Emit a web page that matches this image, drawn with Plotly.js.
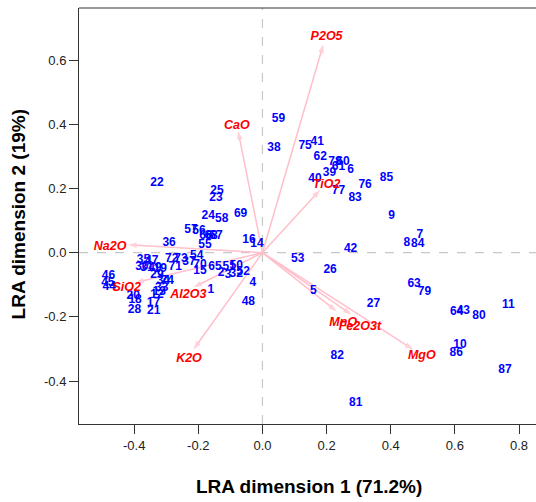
<!DOCTYPE html>
<html><head><meta charset="utf-8">
<script src="https://cdn.plot.ly/plotly-3.0.1.min.js"></script>
<style>html,body{margin:0;padding:0;background:#fff}#chart{width:536px;height:502px}</style>
</head><body><div id="chart"></div>
<script>
// Sample scores (row points)
const sampleLabels = ["1","2","3","4","5","6","7","8","9","10","11","12","13","14","15","16","17","18","19","20","21","22","23","24","25","26","27","28","29","30","31","32","33","34","35","36","37","38","39","40","41","42","43","44","45","46","47","48","49","50","51","52","53","54","55","56","57","58","59","60","61","62","63","64","65","66","67","68","69","70","71","72","73","74","75","76","77","78","79","80","81","82","83","84","85","86","87"];
const dim1 = [-0.161,-0.129,-0.107,-0.030,0.159,0.275,0.491,0.450,0.403,0.616,0.767,-0.329,-0.322,-0.017,-0.195,-0.042,-0.340,-0.397,-0.319,-0.403,-0.339,-0.329,-0.145,-0.169,-0.142,0.211,0.346,-0.399,-0.329,-0.376,-0.360,-0.082,-0.314,-0.309,-0.371,-0.291,-0.229,0.036,0.209,0.164,0.171,0.275,0.626,-0.478,-0.482,-0.480,-0.345,-0.044,-0.335,-0.082,-0.104,-0.060,0.110,-0.205,-0.179,-0.198,-0.223,-0.127,0.050,0.251,0.237,0.180,0.473,0.606,-0.148,-0.176,-0.145,-0.160,-0.068,-0.195,-0.272,-0.283,-0.254,-0.297,0.133,0.320,0.237,0.226,0.505,0.675,0.291,0.233,0.289,0.484,0.387,0.604,0.756];
const dim2 = [-0.115,-0.062,-0.069,-0.093,-0.118,0.259,0.056,0.030,0.115,-0.287,-0.164,-0.131,-0.121,0.028,-0.058,0.040,-0.157,-0.146,-0.050,-0.134,-0.181,0.217,0.172,0.113,0.194,-0.055,-0.160,-0.178,-0.069,-0.043,-0.047,-0.065,-0.110,-0.089,-0.022,0.030,-0.028,0.328,0.250,0.231,0.344,0.012,-0.181,-0.107,-0.093,-0.072,-0.027,-0.155,-0.047,-0.040,-0.044,-0.059,-0.020,-0.009,0.025,0.069,0.072,0.105,0.417,0.283,0.268,0.297,-0.098,-0.185,-0.043,0.053,0.053,0.053,0.121,-0.037,-0.045,-0.020,-0.019,-0.087,0.333,0.212,0.191,0.283,-0.122,-0.198,-0.468,-0.323,0.170,0.028,0.233,-0.312,-0.367];

// Variable loadings (arrows)
const varNames = ["P2O5","CaO","TiO2","Na2O","SiO2","Al2O3","K2O","MnO","Fe2O3t","MgO"];
const varDim1 = [0.190,-0.076,0.180,-0.419,-0.397,-0.215,-0.215,0.232,0.278,0.470];
const varDim2 = [0.650,0.380,0.196,0.025,-0.093,-0.108,-0.302,-0.183,-0.193,-0.302];
const varLabelDim1 = [0.200,-0.080,0.200,-0.475,-0.423,-0.231,-0.229,0.252,0.304,0.497];
const varLabelDim2 = [0.674,0.396,0.212,0.018,-0.110,-0.131,-0.331,-0.219,-0.231,-0.323];

const xTicks = [-0.4,-0.2,0.0,0.2,0.4,0.6,0.8];
const xTickText = ["-0.4","-0.2","0.0","0.2","0.4","0.6","0.8"];
const yTicks = [-0.4,-0.2,0.0,0.2,0.4,0.6];
const yTickText = ["-0.4","-0.2","0.0","0.2","0.4","0.6"];

const FONT = "Liberation Sans, Arial, Helvetica, sans-serif";
const PINK = "#FFBFCB";

const traces = [];
// arrows (drawn below the sample labels)
for (let i = 0; i < varNames.length; i++) {
  traces.push({
    type: "scatter", mode: "lines+markers",
    x: [0, varDim1[i]], y: [0, varDim2[i]],
    line: {color: PINK, width: 1.5},
    marker: {symbol: ["circle", "arrow"], size: [0, 9], color: PINK, angleref: "previous", line: {width: 0}},
    hoverinfo: "none", showlegend: false, cliponaxis: false
  });
}
traces.push({
  type: "scatter", mode: "text",
  x: dim1, y: dim2, text: sampleLabels,
  textfont: {family: FONT, size: 12, color: "#0000FF", weight: "bold"},
  hoverinfo: "none", cliponaxis: false, showlegend: false
});
// variable labels (red, on top)
traces.push({
  type: "scatter", mode: "text",
  x: varLabelDim1, y: varLabelDim2, text: varNames,
  textfont: {family: FONT, size: 12.5, color: "#FF0000", weight: "bold", style: "italic"},
  hoverinfo: "none", cliponaxis: false, showlegend: false
});

const annotations = [
  {x: 0.503, y: -0.151, xref: "paper", yref: "paper", showarrow: false,
   text: "<b>LRA dimension 1 (71.2%)</b>", font: {family: FONT, size: 19, color: "#000"},
   xanchor: "center", yanchor: "middle"},
  {x: -0.132, y: 0.503, xref: "paper", yref: "paper", showarrow: false, textangle: -90,
   text: "<b>LRA dimension 2 (19%)</b>", font: {family: FONT, size: 19, color: "#000"},
   xanchor: "center", yanchor: "middle"}
];

const layout = {
  width: 536, height: 502,
  margin: {l: 79, r: 0, t: 8, b: 78},
  paper_bgcolor: "#fff", plot_bgcolor: "#fff",
  showlegend: false,
  xaxis: {
    range: [-0.572, 0.853], tickvals: xTicks, ticktext: xTickText,
    showgrid: false, zeroline: false, showline: true, linecolor: "#333", linewidth: 1,
    mirror: false, ticks: "outside", ticklen: 9, tickcolor: "#333", tickwidth: 1,
    tickfont: {family: FONT, size: 13, color: "#222"}
  },
  yaxis: {
    range: [-0.534, 0.763], tickvals: yTicks, ticktext: yTickText,
    showgrid: false, zeroline: false, showline: true, linecolor: "#333", linewidth: 1,
    mirror: false, ticks: "outside", ticklen: 9, tickcolor: "#333", tickwidth: 1,
    tickfont: {family: FONT, size: 13, color: "#222"}
  },
  shapes: [
    {type: "line", xref: "paper", yref: "paper", x0: 0, x1: 1, y0: 1, y1: 1, line: {color: "#333", width: 1}},
    {type: "line", xref: "x", yref: "paper", x0: 0, x1: 0, y0: 0, y1: 1, line: {color: "#C8C8C8", width: 1.2, dash: "dash"}, layer: "below"},
    {type: "line", xref: "paper", yref: "y", x0: 0, x1: 1, y0: 0, y1: 0, line: {color: "#C8C8C8", width: 1.2, dash: "dash"}, layer: "below"}
  ],
  annotations: annotations
};

Plotly.newPlot("chart", traces, layout, {displayModeBar: false, staticPlot: true});
</script>
</body></html>
